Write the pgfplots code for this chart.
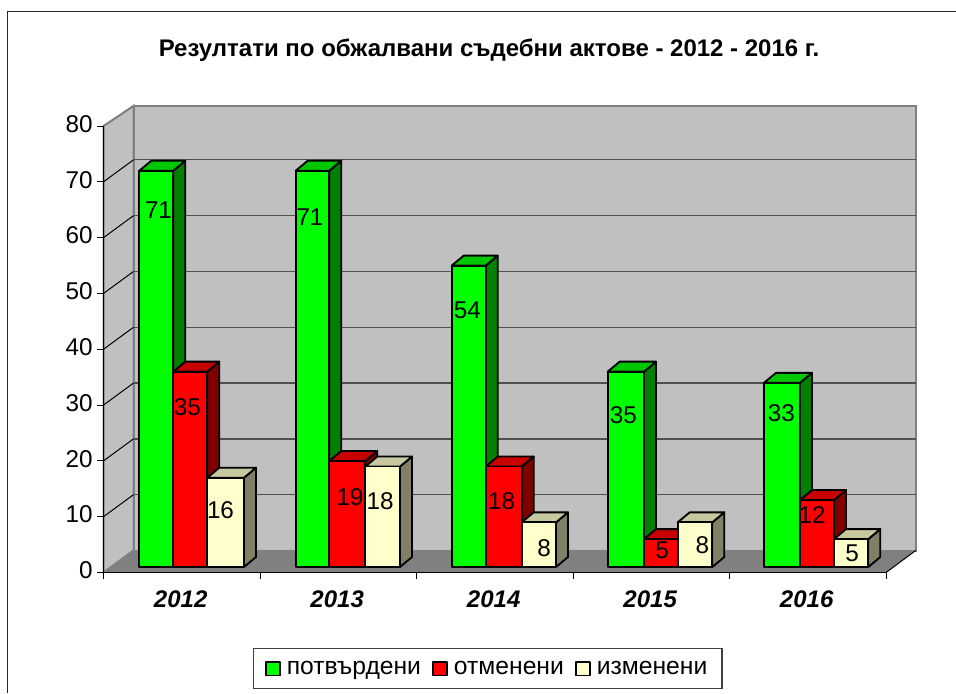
\documentclass[border=0pt]{standalone}
\usepackage{fontspec}
\setmainfont{Liberation Sans}
\usepackage{pgfplots}
\pgfplotsset{compat=1.18}
\definecolor{gF}{HTML}{00FF00}\definecolor{gT}{HTML}{00C800}\definecolor{gS}{HTML}{008000}
\definecolor{rF}{HTML}{FF0000}\definecolor{rT}{HTML}{C80000}\definecolor{rS}{HTML}{800000}
\definecolor{yF}{HTML}{FFFFCC}\definecolor{yT}{HTML}{C8C8A0}\definecolor{yS}{HTML}{808066}
\definecolor{wall}{HTML}{C0C0C0}\definecolor{floorc}{HTML}{808080}\definecolor{gridc}{HTML}{505050}
% one picture pixel = 0.75pt
\tikzset{barline/.style={draw=black,line width=1.4pt,line join=round}}
\newcommand\cbar[6]{%
 \pgfmathsetmacro\Yb{0.986}\pgfmathsetmacro\Yt{#3+0.986}\pgfmathsetmacro\Ytt{#3+0.986+1.79}%
 \pgfmathsetmacro\Ybb{0.986+1.79}\pgfmathsetmacro\Xa{#1+12}\pgfmathsetmacro\Xb{#2+12}%
 \edef\tmp{%
  \noexpand\addplot[forget plot,barline,fill=#6] coordinates {(#2,\Yb)(#2,\Yt)(\Xb,\Ytt)(\Xb,\Ybb)} --cycle;
  \noexpand\addplot[forget plot,barline,fill=#5] coordinates {(#1,\Yt)(#2,\Yt)(\Xb,\Ytt)(\Xa,\Ytt)} --cycle;
  \noexpand\addplot[forget plot,barline,fill=#4] coordinates {(#1,\Yb)(#1,\Yt)(#2,\Yt)(#2,\Yb)} --cycle;
 }\tmp}
\newcommand\gridl[1]{%
 \pgfmathsetmacro\Yg{#1+3.94}%
 \edef\tmp{%
  \noexpand\addplot[forget plot,draw=gridc,line width=0.95pt] coordinates {(133.5,\Yg)(915.7,\Yg)};
  \noexpand\addplot[forget plot,draw=black,line width=0.75pt] coordinates {(103.5,#1)(133.5,\Yg)};
 }\tmp}
\newcommand\lab[3]{\node[anchor=center,inner sep=0pt,font=\fontsize{18.2pt}{20pt}\selectfont] at (axis cs:#1,{(572.5-#2)/5.581}) {#3};}
\begin{document}
\begin{tikzpicture}
\path[use as bounding box] (-77.625pt,-90.375pt) rectangle (639.375pt,429.375pt);
\begin{axis}[
  scale only axis, width=586.875pt, height=334.875pt,
  xmin=103.5, xmax=886, ymin=0, ymax=80,
  clip=false, axis on top,
  axis x line=bottom, axis y line=left,
  axis line style={-,black,line width=0.85pt},
  xtick={103.5,260,416.5,573,729.5,886},
  x tick label as interval,
  xticklabels={2012,2013,2014,2015,2016},
  ytick={0,10,...,80},
  tick align=outside, major tick length=4.9pt,
  tick style={black,line width=0.75pt},
  /pgf/number format/assume math mode=true,
  yticklabel style={font=\fontsize{18.2pt}{20pt}\selectfont,inner xsep=3pt,yshift=1.6pt},
  xticklabel style={font=\fontsize{18pt}{20pt}\selectfont\bfseries\itshape,yshift=-5.5pt,xshift=-0.8pt},
  legend columns=3,
  legend cell align=left,
  legend image code/.code={\draw[#1] (0pt,-5.2pt) rectangle (10.5pt,5.2pt);\path[draw=none,fill=none] (0pt,0pt) -- (13.5pt,0pt);},
  legend style={at={(axis cs:487.6,-17.2)},anchor=center,draw=black!75,line width=0.8pt,
    font=\fontsize{18.5pt}{20pt}\selectfont,inner xsep=9pt,inner ysep=7.5pt,
    /tikz/every even column/.append style={column sep=6.5pt}},
]
\addlegendimage{barline,fill=gF}\addlegendentry{потвърдени}
\addlegendimage{barline,fill=rF}\addlegendentry{отменени}
\addlegendimage{barline,fill=yF}\addlegendentry{изменени}
% walls and floor
\addplot[forget plot,fill=wall,draw=floorc,line width=1.5pt] coordinates {(133.5,3.94)(133.5,83.6)(915.7,83.6)(915.7,3.94)} --cycle;
\addplot[forget plot,fill=wall,draw=floorc,line width=1.5pt] coordinates {(103.5,0)(133.5,3.94)(133.5,83.6)(103.5,80)} --cycle;
\addplot[forget plot,fill=floorc,draw=none] coordinates {(103.5,0)(886,0)(915.7,3.94)(133.5,3.94)} --cycle;
\addplot[forget plot,draw=black,line width=0.75pt] coordinates {(886,0)(915.7,3.94)};
\gridl{10}\gridl{20}\gridl{30}\gridl{40}\gridl{50}\gridl{60}\gridl{70}
% 2012
\cbar{139.3}{173.3}{71}{gF}{gT}{gS}
\cbar{173.3}{207.3}{35}{rF}{rT}{rS}
\cbar{207.3}{244}{16}{yF}{yT}{yS}
% 2013
\cbar{295.7}{329.3}{71}{gF}{gT}{gS}
\cbar{329.3}{365.3}{19}{rF}{rT}{rS}
\cbar{365.3}{400}{18}{yF}{yT}{yS}
% 2014
\cbar{451.7}{485.7}{54}{gF}{gT}{gS}
\cbar{485.7}{521.7}{18}{rF}{rT}{rS}
\cbar{521.7}{556}{8}{yF}{yT}{yS}
% 2015
\cbar{607.7}{644}{35}{gF}{gT}{gS}
\cbar{644}{677.7}{5}{rF}{rT}{rS}
\cbar{677.7}{712.3}{8}{yF}{yT}{yS}
% 2016
\cbar{764}{800}{33}{gF}{gT}{gS}
\cbar{800}{834}{12}{rF}{rT}{rS}
\cbar{834}{868.3}{5}{yF}{yT}{yS}
% data labels
\lab{158.5}{210}{71}\lab{187.3}{406.7}{35}\lab{220.5}{510}{16}
\lab{310}{217}{71}\lab{350}{497}{19}\lab{380}{501}{18}
\lab{467.3}{310.7}{54}\lab{501.7}{500.7}{18}\lab{544}{548}{8}
\lab{623.3}{415}{35}\lab{662}{550.7}{5}\lab{702.3}{545}{8}
\lab{781.3}{412.7}{33}\lab{812}{515}{12}\lab{852}{553}{5}
% title
\node[anchor=center,font=\fontsize{18pt}{20pt}\selectfont\bfseries] at (axis cs:489,{(572.5-50)/5.581}) {Резултати по обжалвани съдебни актове - 2012 - 2016 г.};
\end{axis}
% outer frame: only its top and left edges fall inside the image
\draw[black!85,line width=0.9pt] (-72pt,-90.375pt) -- (-72pt,421pt) -- (639.375pt,421pt);
\end{tikzpicture}
\end{document}
